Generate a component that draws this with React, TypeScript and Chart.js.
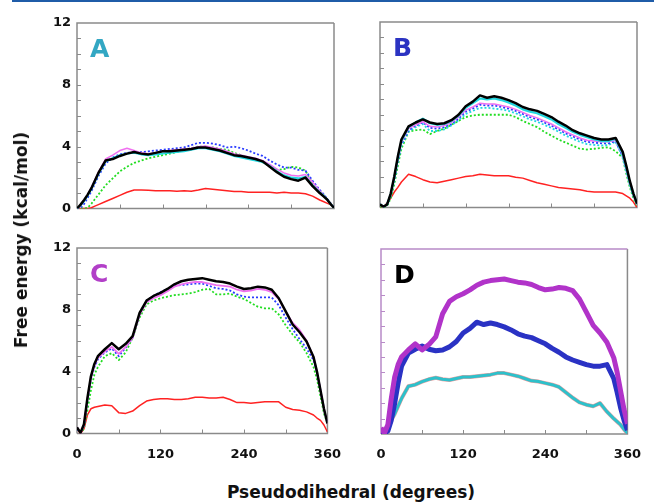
import React, { useEffect, useRef } from 'react';
import { Chart, registerables } from 'chart.js';

Chart.register(...registerables);

// Pseudodihedral angles (degrees) shared by every curve
const ANGLES = [0, 5, 10, 15, 20, 25, 30, 40, 50, 60, 70, 80, 90, 100, 110, 120, 130, 140, 150, 160, 170, 180, 190, 200, 210, 220, 230, 240, 250, 260, 270, 280, 290, 300, 310, 320, 330, 340, 345, 350, 355, 360];
const Y_TICK_LABELS = [0, 4, 8, 12];
const X_TICK_LABELS = [0, 120, 240, 360];
const Y_TITLE = 'Free energy (kcal/mol)';
const X_TITLE = 'Pseudodihedral (degrees)';

// Panel A
const A_BLACK = [0, 0.25, 0.55, 0.9, 1.3, 1.8, 2.3, 3.1, 3.2, 3.4, 3.55, 3.65, 3.55, 3.5, 3.6, 3.7, 3.7, 3.75, 3.8, 3.85, 3.95, 3.95, 3.85, 3.75, 3.6, 3.45, 3.4, 3.3, 3.2, 3.05, 2.7, 2.35, 2.05, 1.9, 1.8, 2.0, 1.45, 1.0, 0.8, 0.6, 0.3, 0.05];
const A_MAGENTA = [0, 0.15, 0.5, 0.9, 1.35, 1.85, 2.35, 3.2, 3.45, 3.75, 3.9, 3.75, 3.6, 3.55, 3.6, 3.7, 3.75, 3.8, 3.85, 3.9, 4.0, 4.05, 3.95, 3.85, 3.7, 3.55, 3.45, 3.35, 3.25, 3.1, 2.85, 2.55, 2.3, 2.15, 2.1, 2.2, 1.7, 1.15, 0.9, 0.6, 0.3, 0.05];
const A_BLUE = [0, 0.05, 0.3, 0.7, 1.1, 1.6, 2.1, 2.9, 3.3, 3.5, 3.6, 3.65, 3.65, 3.7, 3.75, 3.8, 3.85, 3.9, 3.95, 4.1, 4.25, 4.25, 4.2, 4.1, 3.95, 4.0, 3.9, 3.75, 3.55, 3.4, 3.1, 2.85, 2.65, 2.65, 2.5, 2.45, 1.8, 1.2, 0.95, 0.65, 0.35, 0.05];
const A_GREEN = [0, 0, 0, 0.05, 0.3, 0.6, 0.9, 1.5, 1.95, 2.4, 2.7, 2.95, 3.1, 3.25, 3.35, 3.45, 3.55, 3.65, 3.8, 3.9, 4.0, 4.0, 3.95, 3.85, 3.8, 3.6, 3.45, 3.3, 3.15, 3.0, 2.75, 2.5, 2.55, 2.7, 2.65, 2.45, 1.6, 1.1, 0.9, 0.6, 0.3, 0.05];
const A_CYAN = [0, 0.2, 0.5, 0.85, 1.25, 1.75, 2.25, 3.05, 3.25, 3.45, 3.55, 3.6, 3.5, 3.45, 3.5, 3.55, 3.6, 3.65, 3.7, 3.8, 3.9, 3.9, 3.8, 3.7, 3.55, 3.4, 3.3, 3.2, 3.1, 3.0, 2.75, 2.4, 2.15, 2.0, 1.95, 2.05, 1.5, 1.05, 0.85, 0.6, 0.3, 0.05];
const A_RED = [0, 0, 0, 0, 0.05, 0.15, 0.25, 0.45, 0.65, 0.85, 1.05, 1.2, 1.2, 1.18, 1.15, 1.15, 1.15, 1.12, 1.15, 1.12, 1.2, 1.3, 1.25, 1.2, 1.15, 1.1, 1.1, 1.05, 1.05, 1.05, 1.05, 1.0, 1.05, 1.0, 1.0, 0.95, 0.8, 0.55, 0.45, 0.35, 0.25, 0.05];

// Panel B
const B_BLACK = [0.2, 0.05, 0.2, 0.9, 2.0, 3.3, 4.4, 5.25, 5.5, 5.7, 5.5, 5.4, 5.45, 5.65, 6.0, 6.55, 6.85, 7.25, 7.1, 7.2, 7.1, 6.95, 6.75, 6.5, 6.35, 6.25, 6.05, 5.85, 5.55, 5.3, 5.0, 4.8, 4.65, 4.5, 4.4, 4.4, 4.5, 3.6, 2.7, 1.7, 0.9, 0.25];
const B_CYAN = [0.2, 0.05, 0.2, 0.85, 1.9, 3.2, 4.3, 5.2, 5.5, 5.75, 5.45, 5.35, 5.4, 5.6, 5.95, 6.45, 6.75, 7.05, 7.0, 7.05, 6.95, 6.8, 6.6, 6.35, 6.2, 6.1, 5.9, 5.7, 5.4, 5.15, 4.9, 4.7, 4.55, 4.4, 4.3, 4.3, 4.45, 3.5, 2.6, 1.6, 0.85, 0.25];
const B_MAGENTA = [0.2, 0.05, 0.2, 0.85, 1.85, 3.1, 4.2, 5.1, 5.35, 5.55, 5.25, 5.2, 5.3, 5.5, 5.85, 6.3, 6.5, 6.75, 6.7, 6.7, 6.6, 6.5, 6.35, 6.15, 5.95, 5.8, 5.6, 5.4, 5.15, 4.9, 4.7, 4.5, 4.35, 4.3, 4.25, 4.25, 4.35, 3.4, 2.5, 1.55, 0.8, 0.2];
const B_BLUE = [0.2, 0.05, 0.2, 0.8, 1.8, 3.0, 4.1, 5.0, 5.3, 5.5, 5.15, 5.1, 5.2, 5.4, 5.75, 6.2, 6.4, 6.65, 6.6, 6.6, 6.5, 6.4, 6.25, 6.05, 5.85, 5.7, 5.5, 5.3, 5.05, 4.8, 4.6, 4.4, 4.25, 4.2, 4.15, 4.15, 4.3, 3.3, 2.4, 1.5, 0.8, 0.2];
const B_CYAN2 = [0.2, 0.05, 0.2, 0.8, 1.8, 3.0, 4.0, 4.9, 5.2, 5.4, 4.95, 4.95, 5.05, 5.3, 5.65, 6.05, 6.25, 6.45, 6.45, 6.4, 6.35, 6.25, 6.1, 5.9, 5.7, 5.55, 5.35, 5.15, 4.9, 4.65, 4.45, 4.25, 4.1, 4.05, 4.0, 4.05, 4.25, 3.25, 2.35, 1.45, 0.75, 0.2];
const B_GREEN = [0, 0, 0.1, 0.6, 1.5, 2.7, 3.8, 4.9, 5.0, 5.05, 4.75, 4.95, 5.1, 5.35, 5.6, 5.85, 5.95, 6.0, 6.0, 6.0, 6.0, 6.0, 5.85, 5.6, 5.4, 5.2, 4.9, 4.65, 4.4, 4.2, 4.0, 3.8, 3.75, 3.8, 3.85, 3.9, 3.65, 3.2, 2.2, 1.3, 0.6, 0.1];
const B_RED = [0, 0, 0.3, 0.6, 1.0, 1.3, 1.65, 2.15, 2.0, 1.8, 1.65, 1.6, 1.7, 1.8, 1.9, 2.0, 2.05, 2.15, 2.1, 2.05, 2.05, 2.05, 1.95, 1.9, 1.75, 1.6, 1.5, 1.4, 1.3, 1.25, 1.2, 1.15, 1.05, 1.0, 1.0, 1.0, 1.0, 0.9, 0.75, 0.6, 0.35, 0];

// Panel C
const C_BLACK = [0.4, 0.05, 0.6, 2.3, 3.7, 4.5, 5.0, 5.45, 5.85, 5.45, 5.8, 6.3, 7.8, 8.6, 8.9, 9.1, 9.35, 9.65, 9.85, 9.95, 10.0, 10.05, 9.95, 9.85, 9.8, 9.7, 9.5, 9.35, 9.4, 9.5, 9.45, 9.3, 8.75, 7.9, 7.05, 6.55, 5.95, 4.95, 4.0, 2.8, 1.6, 0.65];
const C_MAGENTA = [0.4, 0.05, 0.5, 2.2, 3.6, 4.4, 4.9, 5.3, 5.6, 5.15, 5.6, 6.2, 7.7, 8.5, 8.75, 8.95, 9.2, 9.5, 9.65, 9.75, 9.8, 9.8, 9.7, 9.6, 9.55, 9.5, 9.3, 9.2, 9.25, 9.35, 9.3, 9.15, 8.7, 7.9, 7.15, 6.7, 6.0, 4.95, 4.0, 2.8, 1.6, 0.65];
const C_BLUE = [0.3, 0.05, 0.5, 2.1, 3.5, 4.3, 4.8, 5.25, 5.5, 5.0, 5.55, 6.2, 7.7, 8.6, 8.9, 9.15, 9.35, 9.55, 9.6, 9.65, 9.7, 9.7, 9.55, 9.4, 9.35, 9.25, 9.0, 8.85, 8.8, 8.8, 8.8, 8.8, 8.3, 7.5, 6.75, 6.1, 5.5, 4.75, 3.9, 2.8, 1.6, 0.65];
const C_GREEN = [0.3, 0.05, 0.3, 1.5, 2.8, 3.8, 4.3, 5.0, 5.2, 4.75, 5.25, 6.2, 7.5, 8.35, 8.6, 8.75, 8.85, 8.95, 9.0, 9.05, 9.15, 9.3, 9.35, 9.0, 9.0, 9.05, 8.85, 8.7, 8.45, 8.2, 8.1, 8.1, 7.7, 7.0, 6.4, 5.9, 5.2, 4.3, 3.5, 2.4, 1.3, 0.65];
const C_RED = [0.3, 0, 0.3, 1.2, 1.6, 1.7, 1.75, 1.85, 1.8, 1.35, 1.3, 1.45, 1.8, 2.1, 2.2, 2.25, 2.25, 2.2, 2.2, 2.25, 2.35, 2.35, 2.3, 2.3, 2.35, 2.2, 2.0, 2.0, 1.95, 2.0, 2.05, 2.05, 2.05, 1.7, 1.55, 1.5, 1.4, 1.2, 1.0, 0.85, 0.55, 0.1];

const FONT = '"DejaVu Sans", Verdana, sans-serif';
const GRAY = '#8a8a8a';

type Series = { data: number[]; color: string; width: number; dash?: number[] };
type PanelSpec = {
  left: number; top: number; w: number; h: number;
  yWidth: number; xHeight: number; padTop: number; padRight: number;
  showY: boolean; showX: boolean;
  label: string; labelColor: string; leftTop: string;
  series: Series[];
};

const DOT = [2, 2];

const PANELS: PanelSpec[] = [
  {
    left: 0, top: 0, w: 340, h: 230, yWidth: 77, xHeight: 21.5, padTop: 23, padRight: 6,
    showY: true, showX: false, label: 'A', labelColor: '#33a7c3', leftTop: GRAY,
    series: [
      { data: A_BLACK, color: '#000000', width: 2.5 },
      { data: A_CYAN, color: '#22d8e0', width: 2 },
      { data: A_MAGENTA, color: '#f070f0', width: 1.5 },
      { data: A_BLUE, color: '#2a3cff', width: 1.8, dash: DOT },
      { data: A_GREEN, color: '#22dd22', width: 1.8, dash: DOT },
      { data: A_RED, color: '#ff2222', width: 1.5 },
    ],
  },
  {
    left: 340, top: 0, w: 314, h: 230, yWidth: 40, xHeight: 22.5, padTop: 22, padRight: 17,
    showY: false, showX: false, label: 'B', labelColor: '#2b33c2', leftTop: GRAY,
    series: [
      { data: B_BLACK, color: '#000000', width: 2.5 },
      { data: B_CYAN, color: '#22d8e0', width: 2.2 },
      { data: B_MAGENTA, color: '#f070f0', width: 1.5 },
      { data: B_BLUE, color: '#2a3cff', width: 1.8, dash: DOT },
      { data: B_CYAN2, color: '#22d8e0', width: 1.8, dash: DOT },
      { data: B_GREEN, color: '#22dd22', width: 1.8, dash: DOT },
      { data: B_RED, color: '#ff2222', width: 1.5 },
    ],
  },
  {
    left: 0, top: 230, w: 354, h: 240, yWidth: 77, xHeight: 36.5, padTop: 18, padRight: 20,
    showY: true, showX: true, label: 'C', labelColor: '#b23fc8', leftTop: GRAY,
    series: [
      { data: C_BLACK, color: '#000000', width: 2.5 },
      { data: C_MAGENTA, color: '#f070f0', width: 1.8 },
      { data: C_BLUE, color: '#2a3cff', width: 1.8, dash: DOT },
      { data: C_GREEN, color: '#22dd22', width: 1.8, dash: DOT },
      { data: C_RED, color: '#ff2222', width: 1.5 },
    ],
  },
  {
    left: 344, top: 230, w: 310, h: 240, yWidth: 37, xHeight: 36, padTop: 19, padRight: 16,
    showY: false, showX: true, label: 'D', labelColor: '#000000', leftTop: '#b88ac8',
    series: [
      { data: C_BLACK, color: '#b133c9', width: 5 },
      { data: B_BLACK, color: '#2a32c4', width: 5 },
      { data: A_BLACK, color: '#2ec0ca', width: 3 },
      { data: A_BLACK, color: 'rgba(235,120,120,0.7)', width: 4 },
    ],
  },
];

const framePlugin = {
  id: 'panelFrame',
  beforeDatasetsDraw(chart: any, _args: any, opts: any) {
    const { ctx, chartArea: a } = chart;
    ctx.save();
    ctx.lineWidth = 1.5;
    ctx.strokeStyle = GRAY;
    ctx.beginPath();
    ctx.moveTo(a.left, a.bottom);
    ctx.lineTo(a.right, a.bottom);
    ctx.lineTo(a.right, a.top);
    ctx.stroke();
    ctx.strokeStyle = opts.leftTop;
    ctx.beginPath();
    ctx.moveTo(a.left, a.bottom);
    ctx.lineTo(a.left, a.top);
    ctx.lineTo(a.right, a.top);
    ctx.stroke();

    ctx.lineWidth = 1;
    const ys = chart.scales.y;
    ctx.strokeStyle = opts.leftTop;
    ys.ticks.forEach((t: any) => {
      if (t.value <= ys.min || t.value >= ys.max) return;
      const p = Math.round(ys.getPixelForValue(t.value)) + 0.5;
      ctx.beginPath();
      ctx.moveTo(a.left, p);
      ctx.lineTo(a.left + 4, p);
      ctx.stroke();
    });
    const xs = chart.scales.x;
    ctx.strokeStyle = GRAY;
    xs.ticks.forEach((t: any) => {
      if (t.value <= xs.min || t.value >= xs.max) return;
      const p = Math.round(xs.getPixelForValue(t.value)) + 0.5;
      ctx.beginPath();
      ctx.moveTo(p, a.bottom);
      ctx.lineTo(p, a.bottom - 4);
      ctx.stroke();
    });

    ctx.font = `bold 25px ${FONT}`;
    ctx.fillStyle = opts.labelColor;
    ctx.textBaseline = 'alphabetic';
    ctx.textAlign = 'left';
    ctx.fillText(opts.label, a.left + 13, a.top + 34);
    ctx.restore();
  },
};

function Panel({ spec }: { spec: PanelSpec }) {
  const ref = useRef<HTMLCanvasElement>(null);
  useEffect(() => {
    const tickFont = { family: FONT, size: 13, weight: 'bold' as const };
    const chart = new Chart(ref.current as HTMLCanvasElement, {
      type: 'line',
      data: {
        datasets: spec.series.map((s) => ({
          data: s.data.map((v, i) => ({ x: ANGLES[i], y: v })),
          borderColor: s.color,
          borderWidth: s.width,
          borderDash: s.dash || [],
          pointRadius: 0,
          tension: 0,
          fill: false,
          borderJoinStyle: 'round' as const,
        })),
      },
      options: {
        animation: false,
        responsive: false,
        devicePixelRatio: 1,
        events: [],
        layout: { padding: { left: 0, top: spec.padTop, right: spec.padRight, bottom: 0 }, autoPadding: false },
        plugins: {
          legend: { display: false },
          tooltip: { enabled: false },
          panelFrame: { leftTop: spec.leftTop, label: spec.label, labelColor: spec.labelColor },
        } as any,
        scales: {
          x: {
            type: 'linear',
            min: 0,
            max: 360,
            grid: { display: false, drawTicks: false },
            border: { display: false },
            ticks: {
              display: spec.showX,
              stepSize: 60,
              autoSkip: false,
              maxRotation: 0,
              padding: 13,
              color: '#111',
              font: tickFont,
              callback: (v: any) => (X_TICK_LABELS.includes(Number(v)) ? String(v) : ''),
            },
            afterFit: (s: any) => { s.height = spec.xHeight; },
          },
          y: {
            type: 'linear',
            min: 0,
            max: 12,
            grid: { display: false, drawTicks: false },
            border: { display: false },
            ticks: {
              display: spec.showY,
              stepSize: 1,
              autoSkip: false,
              padding: 6,
              color: '#111',
              font: tickFont,
              callback: (v: any) => (Y_TICK_LABELS.includes(Number(v)) ? String(v) : ''),
            },
            afterFit: (s: any) => { s.width = spec.yWidth; },
          },
        },
      },
      plugins: [framePlugin],
    });
    return () => chart.destroy();
  }, [spec]);
  return (
    <canvas
      ref={ref}
      width={spec.w}
      height={spec.h}
      style={{ position: 'absolute', left: spec.left, top: spec.top, width: spec.w, height: spec.h }}
    />
  );
}

export default function App() {
  return (
    <div style={{ position: 'absolute', left: 0, top: 0, width: 654, height: 504, background: '#fff', overflow: 'hidden' }}>
      <div style={{ position: 'absolute', left: 12, top: 0, width: 642, height: 2, background: '#1f5ca8' }} />
      {PANELS.map((p, i) => (
        <Panel key={i} spec={p} />
      ))}
      <div
        style={{
          position: 'absolute', left: 21, top: 240, transform: 'translate(-50%, -50%) rotate(-90deg)',
          whiteSpace: 'nowrap', font: `bold 17px ${FONT}`, color: '#111',
        }}
      >
        {Y_TITLE}
      </div>
      <div
        style={{
          position: 'absolute', left: 351, top: 492, transform: 'translate(-50%, -50%)',
          whiteSpace: 'nowrap', font: `bold 17px ${FONT}`, color: '#111',
        }}
      >
        {X_TITLE}
      </div>
    </div>
  );
}
